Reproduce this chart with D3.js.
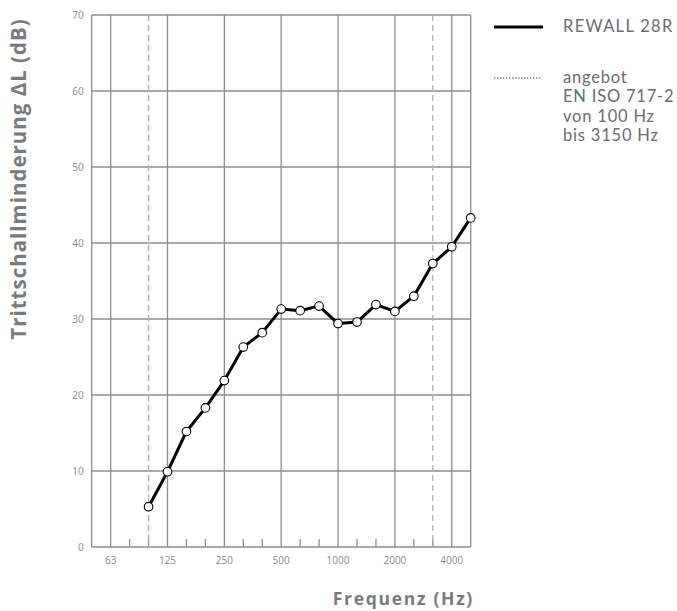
<!DOCTYPE html>
<html>
<head>
<meta charset="utf-8">
<script src="https://cdn.jsdelivr.net/npm/d3@7"></script>
<style>
  html, body { margin: 0; padding: 0; background: #fff; }
  svg { display: block; }
</style>
</head>
<body>
<svg id="chart" width="677" height="611"></svg>
<script>
// Third-octave bands along the frequency axis (50 Hz .. 5000 Hz)
const bands = ["50","63","80","100","125","160","200","250","315","400","500",
               "630","800","1000","1250","1600","2000","2500","3150","4000","5000"];
// Octave bands that carry a grid line and a label
const octaveLabels = ["63","125","250","500","1000","2000","4000"];
// Evaluation range of EN ISO 717-2
const rangeBounds = ["100","3150"];
// Measured impact sound reduction of REWALL 28R
const measFreqs = ["100","125","160","200","250","315","400","500","630","800",
                   "1000","1250","1600","2000","2500","3150","4000","5000"];
const measValues = [5.3, 9.9, 15.2, 18.3, 21.9, 26.3, 28.2, 31.3, 31.1, 31.7,
                    29.4, 29.6, 31.9, 31.0, 33.0, 37.3, 39.5, 43.3];
const yTicks = [0, 10, 20, 30, 40, 50, 60, 70];

const plotLeft = 91.7, plotRight = 470.7, plotTop = 15, plotBottom = 547;
const svg = d3.select("#chart");

const x = d3.scalePoint().domain(bands).range([plotLeft, plotRight]);
const y = d3.scaleLinear().domain([0, 70]).range([plotBottom, plotTop]);

const gridColor = "#8c8c8c";

// horizontal grid lines
svg.append("g").selectAll("line").data(yTicks).join("line")
  .attr("x1", plotLeft).attr("x2", plotRight)
  .attr("y1", d => y(d)).attr("y2", d => y(d))
  .attr("stroke", gridColor).attr("stroke-width", 1.3);

// vertical octave grid lines plus frame edges
svg.append("g").selectAll("line").data(["50", ...octaveLabels, "5000"]).join("line")
  .attr("x1", d => x(d)).attr("x2", d => x(d))
  .attr("y1", plotTop).attr("y2", plotBottom)
  .attr("stroke", gridColor).attr("stroke-width", 1.3);

// short ticks for the remaining third-octave bands
const minor = bands.filter(b => !octaveLabels.includes(b) && b !== "50" && b !== "5000");
svg.append("g").selectAll("line").data(minor).join("line")
  .attr("x1", d => x(d)).attr("x2", d => x(d))
  .attr("y1", plotBottom - 8).attr("y2", plotBottom)
  .attr("stroke", gridColor).attr("stroke-width", 1.3);

// dashed limits of the evaluation range
svg.append("g").selectAll("line").data(rangeBounds).join("line")
  .attr("x1", d => x(d)).attr("x2", d => x(d))
  .attr("y1", plotTop).attr("y2", plotBottom)
  .attr("stroke", "#b4b4b4").attr("stroke-width", 1.4)
  .attr("stroke-dasharray", "6,4");

// y tick labels
svg.append("g").selectAll("text").data(yTicks).join("text")
  .attr("x", plotLeft - 8).attr("y", d => y(d)).attr("dy", "0.35em")
  .attr("text-anchor", "end")
  .attr("font-family", "'Open Sans', sans-serif").attr("font-size", 10)
  .attr("fill", "#8a8a8a")
  .text(d => d);

// x tick labels
svg.append("g").selectAll("text").data(octaveLabels).join("text")
  .attr("x", d => x(d)).attr("y", 564)
  .attr("text-anchor", "middle")
  .attr("font-family", "'Open Sans', sans-serif").attr("font-size", 10)
  .attr("fill", "#8a8a8a")
  .text(d => d);

// axis titles
svg.append("text")
  .attr("transform", "translate(26,179) rotate(-90)")
  .attr("text-anchor", "middle")
  .attr("font-family", "'Open Sans', sans-serif").attr("font-weight", 700)
  .attr("font-size", 20.5).attr("letter-spacing", 1.0)
  .attr("fill", "#7a7a7a")
  .text("Trittschallminderung ΔL (dB)");

svg.append("text")
  .attr("x", 474).attr("y", 605)
  .attr("text-anchor", "end")
  .attr("font-family", "'Open Sans', sans-serif").attr("font-weight", 700)
  .attr("font-size", 17.5).attr("letter-spacing", 1.7)
  .attr("fill", "#7a7a7a")
  .text("Frequenz (Hz)");

// measurement curve
const pts = measFreqs.map((f, i) => [x(f), y(measValues[i])]);
svg.append("path")
  .attr("d", d3.line()(pts))
  .attr("fill", "none").attr("stroke", "#000")
  .attr("stroke-width", 3).attr("stroke-linejoin", "round");

svg.append("g").selectAll("circle").data(pts).join("circle")
  .attr("cx", d => d[0]).attr("cy", d => d[1]).attr("r", 4.3)
  .attr("fill", "#fff").attr("stroke", "#000").attr("stroke-width", 1.1);

// legend
const legend = svg.append("g");
legend.append("line")
  .attr("x1", 494).attr("x2", 543).attr("y1", 27).attr("y2", 27)
  .attr("stroke", "#000").attr("stroke-width", 3);
legend.append("text")
  .attr("x", 563).attr("y", 32)
  .attr("font-family", "Lato, sans-serif").attr("font-size", 16.5)
  .attr("letter-spacing", 1.3).attr("fill", "#6b6b6b")
  .text("REWALL 28R");
legend.append("line")
  .attr("x1", 494).attr("x2", 541).attr("y1", 78).attr("y2", 78)
  .attr("stroke", "#444").attr("stroke-width", 1)
  .attr("stroke-dasharray", "1.5,1.5");
const noteLines = ["angebot", "EN ISO 717-2", "von 100 Hz", "bis 3150 Hz"];
legend.append("g").selectAll("text").data(noteLines).join("text")
  .attr("x", 563).attr("y", (d, i) => 83 + i * 19.3)
  .attr("font-family", "Lato, sans-serif").attr("font-size", 16.5)
  .attr("letter-spacing", 0.8).attr("fill", "#6b6b6b")
  .text(d => d);
</script>
</body>
</html>
